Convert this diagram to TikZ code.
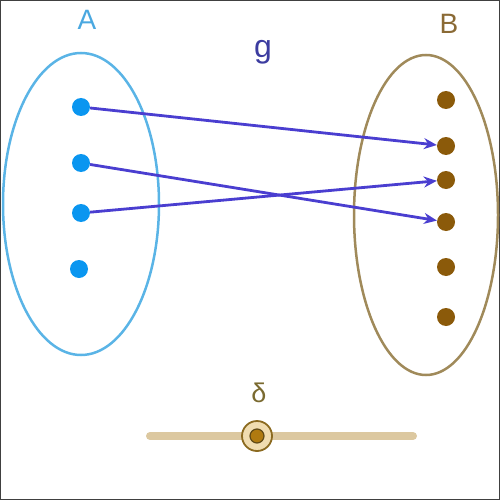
\documentclass[tikz,border=0pt]{standalone}
\usepackage{fontspec}
\setmainfont{Liberation Sans}
\usetikzlibrary{arrows.meta}
\definecolor{setA}{HTML}{5AB4E6}
\definecolor{dotA}{HTML}{0A96F0}
\definecolor{setB}{HTML}{A08A5A}
\definecolor{dotB}{HTML}{8B5A0A}
\definecolor{arr}{HTML}{4A3ED0}
\definecolor{glab}{HTML}{3C3CA0}
\definecolor{labA}{HTML}{4AA8E0}
\definecolor{labB}{HTML}{8A6A35}
\definecolor{slide}{HTML}{DCC8A0}
\definecolor{knobfill}{HTML}{F0DCB0}
\definecolor{knobdraw}{HTML}{8B6A20}
\definecolor{knobin}{HTML}{B07A10}
\definecolor{dlab}{HTML}{7A6A30}
\tikzset{
  dotAstyle/.style={circle,fill=dotA,inner sep=0pt,minimum size=18pt},
  dotBstyle/.style={circle,fill=dotB,inner sep=0pt,minimum size=18pt},
  maparrow/.style={draw=arr,line width=2.8pt,-{Stealth[length=13pt,width=11pt]}},
  setline/.style={line width=2.5pt},
  lab/.style={font=\fontsize{#1}{#1}\selectfont}
}
\begin{document}
\begin{tikzpicture}[x=1pt,y=-1pt]
\useasboundingbox (0,0) rectangle (500,500);
\draw[gray!50!black,line width=1.2pt] (0.6,0.6) rectangle (499.4,499.4);
% sets
\draw[setline,setA] (81,204) ellipse [x radius=78,y radius=151];
\draw[setline,setB] (426,215) ellipse [x radius=72,y radius=160];
% labels
\node[text=labA,lab=28] (lA) at (87,20) {A};
\node[text=labB,lab=28] (lB) at (449,24) {B};
\node[text=glab,lab=32] (lg) at (263,52) {g};
% dots A
\node[dotAstyle] (a1) at (81,107) {};
\node[dotAstyle] (a2) at (81,163) {};
\node[dotAstyle] (a3) at (81,213) {};
\node[dotAstyle] (a4) at (79,269) {};
% dots B
\node[dotBstyle] (b1) at (446,100) {};
\node[dotBstyle] (b2) at (446,146) {};
\node[dotBstyle] (b3) at (446,180) {};
\node[dotBstyle] (b4) at (446,222) {};
\node[dotBstyle] (b5) at (446,267) {};
\node[dotBstyle] (b6) at (446,317) {};
% arrows
\draw[maparrow] (a1) -- (b2);
\draw[maparrow] (a2) -- (b4);
\draw[maparrow] (a3) -- (b3);
% slider
\coordinate (s1) at (150,436);
\coordinate (s2) at (413,436);
\draw[slide,line width=8pt,line cap=round] (s1) -- (s2);
\node[circle,fill=knobfill,draw=knobdraw,line width=1.8pt,inner sep=0pt,minimum size=30pt] (knob) at (257,436) {};
\node[circle,fill=knobin,draw=knobdraw!70!black,line width=1.2pt,inner sep=0pt,minimum size=14pt] (knobc) at (knob) {};
\node[text=dlab,lab=27] (ld) at (259,393) {δ};
\end{tikzpicture}
\end{document}
